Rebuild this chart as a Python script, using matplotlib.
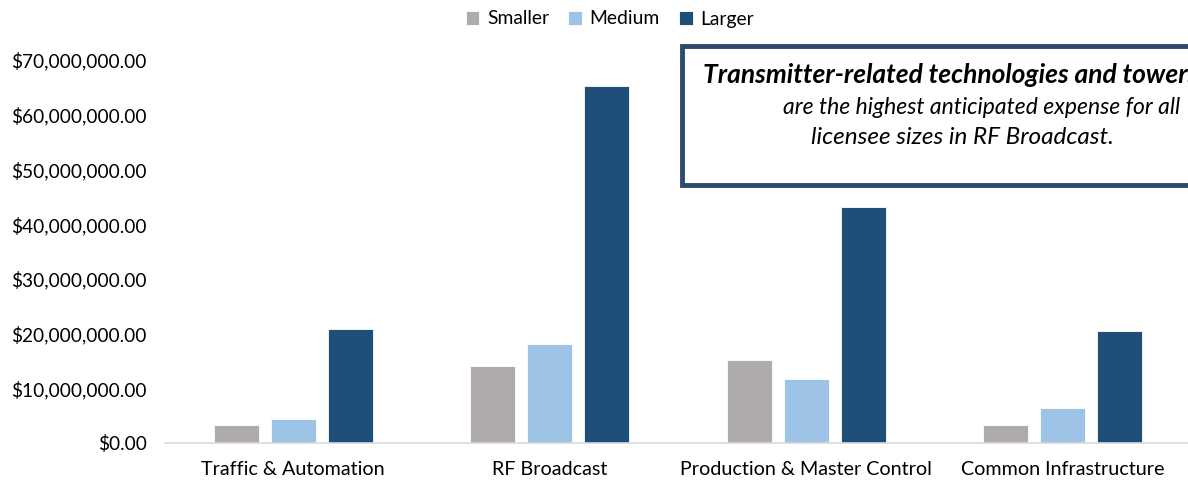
import numpy as np
import matplotlib.pyplot as plt
from matplotlib.patches import Rectangle
from matplotlib.ticker import FuncFormatter

plt.rcParams['font.family'] = ['Lato', 'DejaVu Sans']

categories = ['Traffic & Automation', 'RF Broadcast', 'Production & Master Control', 'Common Infrastructure']
series = ['Smaller', 'Medium', 'Larger']
smaller = [3.2e6, 14.0e6, 15.1e6, 3.2e6]
medium = [4.45e6, 18.1e6, 11.7e6, 6.4e6]
larger = [20.8e6, 65.2e6, 43.2e6, 20.4e6]
colors = ['#AFABAB', '#9DC3E6', '#1F4E79']
note = ('Transmitter-related technologies and towers', 'are the highest anticipated expense for all',
        'licensee sizes in RF Broadcast.')

W, H = 1188, 482
fig = plt.figure(figsize=(W / 100, H / 100), dpi=100)
ax = fig.add_axes([165 / W, 1 - 443 / H, 1026 / W, (443 - 60) / H])

x = np.arange(len(categories))
bw = 0.175
step = 0.222
for i, (vals, name) in enumerate(zip([smaller, medium, larger], series)):
    ax.bar(x + (i - 1) * step, vals, bw, color=colors[i], label=name,
           edgecolor='white', linewidth=0.6)

ax.set_xlim(-0.5, len(categories) - 0.5)
ax.set_ylim(0, 70e6)
ax.set_yticks(np.arange(0, 70e6 + 1, 10e6))
ax.yaxis.set_major_formatter(FuncFormatter(lambda v, p: '${:,.2f}'.format(v)))
ax.set_xticks(x)
ax.set_xticklabels(categories)
for s in ['top', 'right', 'left']:
    ax.spines[s].set_visible(False)
ax.spines['bottom'].set_color('#D9D9D9')
ax.spines['bottom'].set_linewidth(1.2)
ax.tick_params(axis='y', length=0, labelsize=13.8, colors='#000000', pad=13)
ax.tick_params(axis='x', length=0, labelsize=14.2, colors='#000000', pad=13)

fig.legend(loc='center', bbox_to_anchor=(610 / W, 1 - 19 / H), ncol=3, frameon=False,
           fontsize=13.9, handlelength=0.7, handleheight=0.7, handletextpad=0.4,
           columnspacing=1.0)

# callout box, clipped by the figure edge
fig.patches.append(Rectangle((682 / W, 1 - 185 / H), 600 / W, 139 / H, transform=fig.transFigure,
                             facecolor='white', edgecolor='#2E4B69', linewidth=3.5, zorder=5))
fig.text(703 / W, 1 - 75 / H, note[0], ha='left', va='center', fontsize=19,
         style='italic', weight='bold', zorder=6)
fig.text(982 / W, 1 - 107 / H, note[1], ha='center', va='center', fontsize=16.5,
         style='italic', zorder=6)
fig.text(962 / W, 1 - 138 / H, note[2], ha='center', va='center', fontsize=17.5,
         style='italic', zorder=6)

fig.savefig('out.png', dpi=100)
